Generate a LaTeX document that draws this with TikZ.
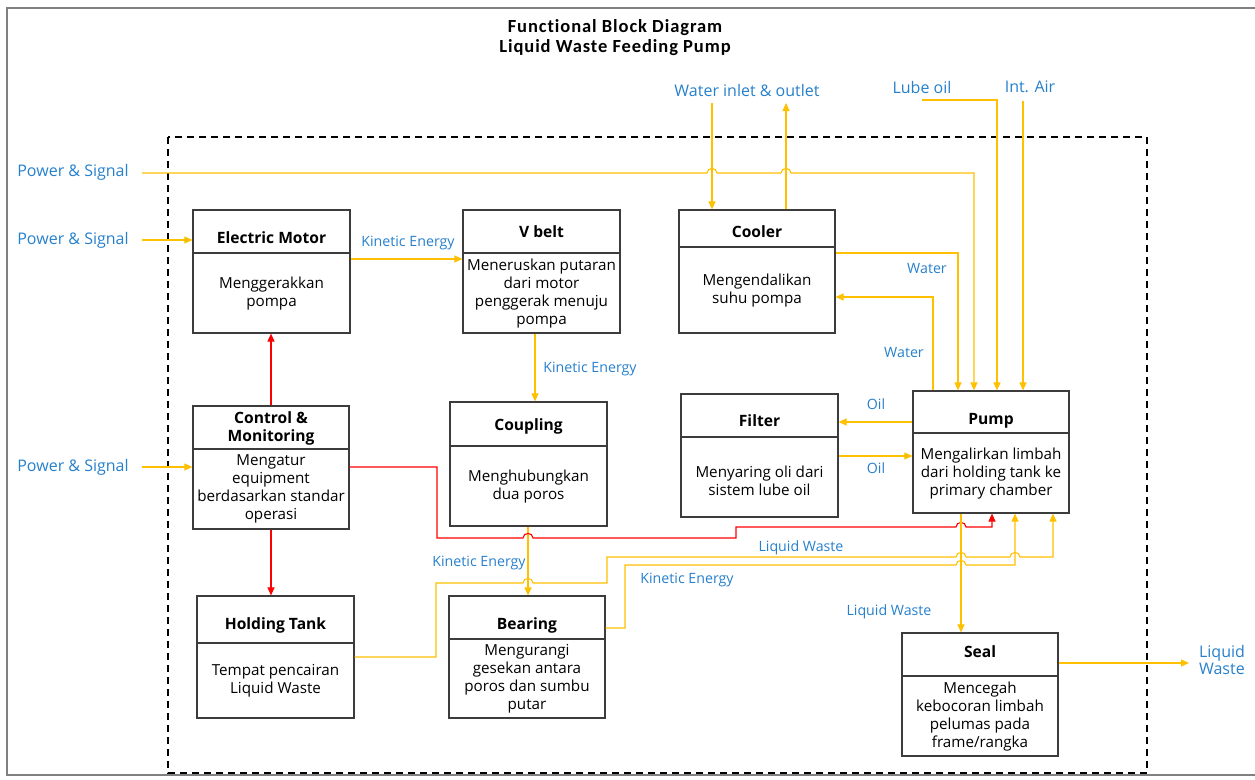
\documentclass[tikz,border=0pt]{standalone}
\usepackage{fontspec}
\setmainfont{Open Sans}
\newfontfamily\titlefont[LetterSpace=5,Ligatures=NoCommon]{Carlito}
\usetikzlibrary{arrows.meta,calc,fit}
\definecolor{flow}{RGB}{255,192,0}
\definecolor{ctrl}{RGB}{255,0,0}
\definecolor{lbl}{RGB}{38,128,204}
\definecolor{edge}{RGB}{60,60,60}

\tikzset{
  box/.style={draw=edge, line width=1.2pt, inner sep=0pt},
  hdr/.style={font=\fontsize{15.6}{17.5}\selectfont\bfseries, anchor=base, align=center, inner sep=0pt},
  txt/.style={font=\fontsize{15.2}{18}\selectfont, align=center, inner sep=0pt},
  bodyshift/.style={},
  lab/.style={font=\fontsize{14.2}{16}\selectfont, text=lbl, inner sep=0pt},
  plab/.style={font=\fontsize{16}{17}\selectfont, text=lbl, inner sep=0pt, align=left},
  yl/.style={draw=flow, line width=1.1pt},
  rd/.style={draw=ctrl, line width=1.1pt},
  tip/.style={-{Triangle[length=8pt,width=7pt]}},
}

% block: name, x1, y1, x2, y2, divider y, title baseline y, title, body
\newcommand\blk[9]{%
  \coordinate (#1-nw) at (#2,#3);
  \coordinate (#1-se) at (#4,#5);
  \node[box, fit=(#1-nw)(#1-se)] (#1) {};
  \draw[draw=edge, line width=1.2pt] (#1.west |- 0,#6) -- (#1.east |- 0,#6);
  \node[hdr] (#1-t) at (#1.north |- 0,#7) {#8};
  \node[txt, bodyshift] (#1-b) at ($(#1.south)!0.5!(#1.south |- 0,#6)$) {#9};
}

\begin{document}
\begin{tikzpicture}[x=1pt, y=-1pt]
\useasboundingbox (0,0) rectangle (1255,779);

% frames
\draw[draw=gray, line width=1.5pt] (1258,8) -- (7,8) -- (7,775) -- (1258,775);
\draw[dashed, dash pattern=on 7pt off 5pt, line width=1.1pt] (168,137) rectangle (1147,773);

\node[font=\titlefont\bfseries\fontsize{18.5}{19.5}\selectfont, align=center] (ttl) at (615,37.5)
  {Functional Block Diagram\\Liquid Waste Feeding Pump};

% blocks
\blk{em}{193}{210}{350}{333}{253}{243}{Electric Motor}{Menggerakkan\\pompa}
\blk{vb}{463}{210}{620}{333}{253}{237}{V belt}{Meneruskan putaran\\dari motor\\penggerak menuju\\pompa}
\blk{co}{679}{210}{835}{333}{247}{237}{Cooler}{Mengendalikan\\suhu pompa}
\blk{cm}{193}{406}{349}{529}{449}{441}{Control \&\\Monitoring}{Mengatur\\equipment\\berdasarkan standar\\operasi}
\blk{cp}{450}{402}{607}{526}{446}{430}{Coupling}{Menghubungkan\\dua poros}
\tikzset{bodyshift/.style={yshift=-3pt}}
\blk{fl}{681}{394}{838}{517}{437}{426}{Filter}{Menyaring oli dari\\sistem lube oil}
\tikzset{bodyshift/.style={}}
\blk{pu}{913}{391}{1069}{513}{433}{424}{Pump}{Mengalirkan limbah\\dari holding tank ke\\primary chamber}
\blk{ht}{197}{596}{354}{718}{643}{629}{Holding Tank}{Tempat pencairan\\Liquid Waste}
\blk{be}{449}{596}{605}{718}{639}{629}{Bearing}{Mengurangi\\gesekan antara\\poros dan sumbu\\putar}
\blk{se}{902}{633}{1058}{756}{676}{657}{Seal}{Mencegah\\kebocoran limbah\\pelumas pada\\frame/rangka}

% outside inputs and outputs
\node[plab] (ps1) at (73,172) {Power \& Signal};
\node[plab] (ps2) at (73,240) {Power \& Signal};
\node[plab] (ps3) at (73,467) {Power \& Signal};
\node[plab] (wio) at (747,90) {Water inlet \& outlet};
\node[plab] (lub) at (922,87) {Lube oil};
\node[plab] (air) at (1030,87) {Int. Air};
\node[plab] (lwo) at (1222,660) {Liquid\\Waste};
\coordinate (ps1-o) at (142,173);
\coordinate (ps2-o) at (142,240);
\coordinate (ps3-o) at (142,467);
\coordinate (win-o) at (712,103);
\coordinate (wout-o) at (786,103);
\coordinate (lub-o) at (922,100);
\coordinate (air-o) at (1023,101);
\coordinate (lwo-o) at (1189,663);

% connector labels
\node[lab] (ke1) at (408,243) {Kinetic Energy};
\node[lab] (ke2) at (590,369) {Kinetic Energy};
\node[lab] (ke3) at (479,563) {Kinetic Energy};
\node[lab] (ke4) at (687,580) {Kinetic Energy};
\node[lab] (lw1) at (801,548) {Liquid Waste};
\node[lab] (lw2) at (889,612) {Liquid Waste};
\node[lab] (oil1) at (876,404) {Oil};
\node[lab] (oil2) at (876,468) {Oil};
\node[lab] (w1) at (927,268) {Water};
\node[lab] (w2) at (904,352) {Water};

% power and signal feeds
\draw[yl,tip] (ps1-o) -- (707,173) .. controls (707,167) and (717,167) .. (717,173)
  -- (781,173) .. controls (781,167) and (791,167) .. (791,173)
  -- (974,173) -- (pu.north -| 974,0);
\draw[yl,tip] (ps2-o) -- (em.west |- 0,240);
\draw[yl,tip] (ps3-o) -- (cm.west |- 0,467);

% mechanical drive train
\draw[yl,tip] (em.east |- 0,259) -- (vb.west |- 0,259);
\draw[yl,tip] (vb.south -| 535,0) -- (cp.north -| 535,0);
\draw[yl,tip] (cp.south -| 528,0) -- (be.north -| 528,0);

% control lines
\draw[rd,tip] (cm.north) -- (cm.north |- em.south);
\draw[rd,tip] (cm.south) -- (cm.south |- ht.north);
\draw[rd,tip] (cm.east |- 0,467) -- (437,467) -- (437,538) -- (523,538)
  .. controls (523,532) and (533,532) .. (533,538) -- (736,538) -- (736,527) -- (956,527)
  .. controls (956,521) and (966,521) .. (966,527) -- (992,527) -- (pu.south -| 992,0);

% liquid waste and kinetic energy into the pump
\draw[yl,tip] (ht.east |- 0,657) -- (436,657) -- (436,583) -- (523,583)
  .. controls (523,577) and (533,577) .. (533,583) -- (607,583) -- (607,557) -- (956,557)
  .. controls (956,551) and (966,551) .. (966,557) -- (1010,557)
  .. controls (1010,551) and (1020,551) .. (1020,557) -- (1053,557) -- (pu.south -| 1053,0);
\draw[yl,tip] (be.east |- 0,628) -- (625,628) -- (625,565) -- (956,565)
  .. controls (956,559) and (966,559) .. (966,565) -- (1015,565) -- (pu.south -| 1015,0);

% pump outputs
\draw[yl,tip] (pu.south -| 961,0) -- (se.north -| 961,0);
\draw[yl,tip] (se.east |- 0,663) -- (lwo-o);
\draw[yl,tip] (pu.west |- 0,422) -- (fl.east |- 0,422);
\draw[yl,tip] (fl.east |- 0,456) -- (pu.west |- 0,456);

% cooling water
\draw[yl,tip] (co.east |- 0,253) -- (958,253) -- (pu.north -| 958,0);
\draw[yl,tip] (pu.north -| 933,0) -- (933,297) -- (co.east |- 0,297);
\draw[yl,tip] (win-o) -- (co.north -| 712,0);
\draw[yl,tip] (co.north -| 786,0) -- (wout-o);

% lube oil and air supply
\draw[yl,tip] (lub-o) -- (997,100) -- (pu.north -| 997,0);
\draw[yl,tip] (air-o) -- (pu.north -| 1023,0);
\end{tikzpicture}
\end{document}
